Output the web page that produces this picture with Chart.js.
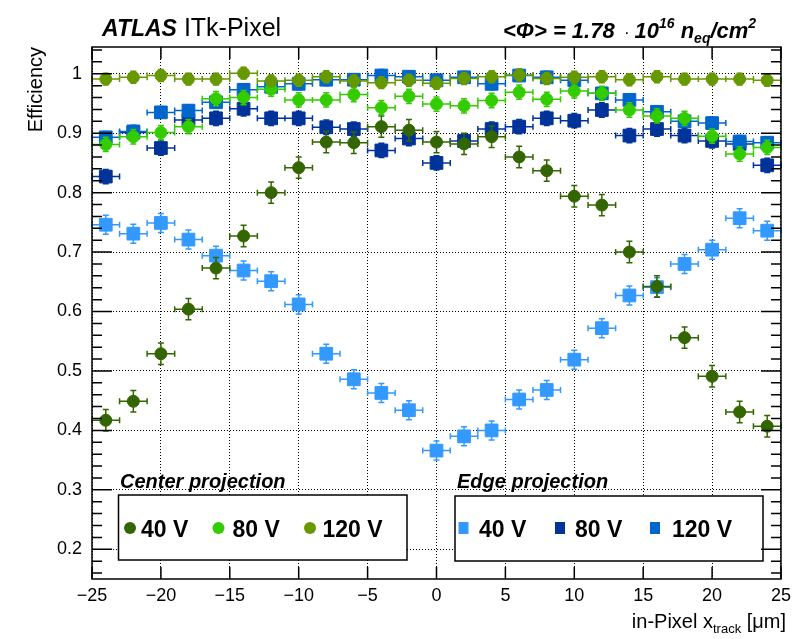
<!DOCTYPE html>
<html>
<head>
<meta charset="utf-8">
<script src="https://cdn.jsdelivr.net/npm/chart.js@4.4.1/dist/chart.umd.min.js"></script>
<style>
	html, body { margin: 0; padding: 0; background: #fff; }
	canvas { display: block; }
</style>
</head>
<body>
<canvas id="graficoEficiencia" width="797" height="639"></canvas>
<script>
// centro de cada bin em x (um), meia largura do bin
posicoes = [-24, -22, -20, -18, -16, -14, -12, -10, -8, -6, -4, -2, 0, 2, 4, 6, 8, 10, 12, 14, 16, 18, 20, 22, 24]
meiaLargura = 1

// projecao no centro do pixel
centro40 = [0.417, 0.449, 0.529, 0.604, 0.673, 0.727, 0.800, 0.842, 0.885, 0.884, 0.911, 0.905, 0.885, 0.882, 0.894, 0.860, 0.837, 0.794, 0.779, 0.700, 0.642, 0.556, 0.491, 0.431, 0.407]
centro80 = [0.881, 0.894, 0.901, 0.911, 0.958, 0.960, 0.974, 0.956, 0.956, 0.965, 0.943, 0.962, 0.949, 0.946, 0.955, 0.969, 0.957, 0.971, 0.967, 0.939, 0.929, 0.925, 0.895, 0.865, 0.876]
centro120 = [0.991, 0.994, 0.997, 0.991, 0.991, 1.001, 0.988, 0.989, 0.995, 0.988, 0.985, 0.989, 0.984, 0.992, 0.995, 0.998, 0.992, 0.994, 0.995, 0.990, 0.995, 0.991, 0.991, 0.991, 0.989]

// projecao na borda do pixel
borda40 = [0.746, 0.731, 0.749, 0.721, 0.694, 0.669, 0.651, 0.612, 0.529, 0.486, 0.463, 0.434, 0.366, 0.390, 0.400, 0.452, 0.468, 0.519, 0.572, 0.627, 0.641, 0.680, 0.704, 0.757, 0.736]
borda80 = [0.827, 0.901, 0.875, 0.922, 0.925, 0.941, 0.925, 0.925, 0.910, 0.907, 0.871, 0.891, 0.850, 0.887, 0.907, 0.911, 0.925, 0.921, 0.939, 0.896, 0.907, 0.896, 0.887, 0.882, 0.846]
borda120 = [0.893, 0.903, 0.935, 0.938, 0.952, 0.973, 0.978, 0.983, 0.990, 0.990, 0.997, 0.995, 0.989, 0.994, 0.983, 0.997, 0.994, 0.989, 0.967, 0.956, 0.936, 0.920, 0.917, 0.886, 0.884]

// incerteza em y de cada serie (40, 80, 120 V)
erroCentro = [0.018, 0.012, 0.010]
erroBorda = [0.016, 0.012, 0.010]

tensoes = ['40 V', '80 V', '120 V']
coresCentro = ['#336600', '#33cc00', '#669900']
coresBorda = ['#3399ff', '#003399', '#0066cc']

ticksX = [-25, -20, -15, -10, -5, 0, 5, 10, 15, 20, 25]
ticksY = [0.2, 0.3, 0.4, 0.5, 0.6, 0.7, 0.8, 0.9, 1]

fonte = "'Liberation Sans', Arial, Helvetica, sans-serif"

function serie(valores, cor, estilo, erro, ordem) {
	const raio = estilo == 'rect' ? 9 : 6
	return {
		data: posicoes.map((x, i) => ({ x: x, y: valores[i] })),
		erro: erro,
		backgroundColor: cor,
		borderColor: cor,
		borderWidth: 1,
		pointStyle: estilo,
		pointRadius: raio,
		pointHoverRadius: raio,
		showLine: false,
		order: ordem
	}
}

// barras de erro desenhadas logo antes dos pontos de cada serie
barrasDeErro = {
	id: 'barrasDeErro',
	beforeDatasetDraw(chart, args) {
		const ds = chart.data.datasets[args.index]
		const sx = chart.scales.x, sy = chart.scales.y
		const ctx = chart.ctx
		const cap = 3
		ctx.save()
		ctx.strokeStyle = ds.borderColor
		ctx.lineWidth = 1.5
		ctx.beginPath()
		ds.data.forEach(p => {
			const xc = sx.getPixelForValue(p.x), yc = sy.getPixelForValue(p.y)
			const x0 = sx.getPixelForValue(p.x - meiaLargura), x1 = sx.getPixelForValue(p.x + meiaLargura)
			const y0 = sy.getPixelForValue(p.y - ds.erro), y1 = sy.getPixelForValue(p.y + ds.erro)
			ctx.moveTo(x0, yc); ctx.lineTo(x1, yc)
			ctx.moveTo(xc, y0); ctx.lineTo(xc, y1)
			ctx.moveTo(x0, yc - cap); ctx.lineTo(x0, yc + cap)
			ctx.moveTo(x1, yc - cap); ctx.lineTo(x1, yc + cap)
			ctx.moveTo(xc - cap, y0); ctx.lineTo(xc + cap, y0)
			ctx.moveTo(xc - cap, y1); ctx.lineTo(xc + cap, y1)
		})
		ctx.stroke()
		ctx.restore()
	}
}

function escreve(ctx, partes, x, y) {
	partes.forEach(p => {
		ctx.font = p.f + ' ' + fonte
		ctx.fillText(p.t, x, y + (p.dy || 0))
		x += ctx.measureText(p.t).width
	})
}

function larguraDe(ctx, partes) {
	let w = 0
	partes.forEach(p => {
		ctx.font = p.f + ' ' + fonte
		w += ctx.measureText(p.t).width
	})
	return w
}

// caixas de legenda com os marcadores das series
function caixaLegenda(ctx, titulo, tituloX, caixa, cores, estilo, marcasX, textosX) {
	ctx.fillStyle = '#000'
	ctx.font = 'italic bold 20px ' + fonte
	ctx.textBaseline = 'alphabetic'
	ctx.fillText(titulo, tituloX, 488)
	ctx.fillStyle = '#fff'
	ctx.fillRect(caixa[0], caixa[1], caixa[2] - caixa[0], caixa[3] - caixa[1])
	ctx.strokeStyle = '#000'
	ctx.lineWidth = 1.5
	ctx.strokeRect(caixa[0], caixa[1], caixa[2] - caixa[0], caixa[3] - caixa[1])
	const yc = 528
	cores.forEach((cor, i) => {
		ctx.fillStyle = cor
		if (estilo == 'circle') {
			ctx.beginPath()
			ctx.arc(marcasX[i], yc, 6, 0, Math.PI * 2)
			ctx.fill()
		} else {
			ctx.fillRect(marcasX[i] - 5, yc - 6, 10, 12)
		}
		ctx.fillStyle = '#000'
		ctx.font = 'bold 23px ' + fonte
		ctx.fillText(tensoes[i], textosX[i], 536.5)
	})
}

legendas = {
	id: 'legendas',
	afterDatasetsDraw(chart) {
		const ctx = chart.ctx
		ctx.save()
		caixaLegenda(ctx, 'Center projection', 120, [118.5, 495, 407, 560], coresCentro, 'circle', [130, 218.5, 310], [141, 232.5, 322.5])
		caixaLegenda(ctx, 'Edge projection', 457, [455, 496, 763, 561], coresBorda, 'rect', [463.5, 560, 655], [479, 575, 672])
		ctx.restore()
	}
}

// moldura com marcas nos quatro lados e textos do cabecalho
moldura = {
	id: 'moldura',
	afterDraw(chart) {
		const { ctx, chartArea: a, scales: { x, y } } = chart
		ctx.save()
		ctx.strokeStyle = '#000'
		ctx.lineWidth = 1.5
		ctx.beginPath()
		ticksX.forEach(v => {
			const px = x.getPixelForValue(v)
			ctx.moveTo(px, a.bottom); ctx.lineTo(px, a.bottom - 12)
			ctx.moveTo(px, a.top); ctx.lineTo(px, a.top + 12)
		})
		for (let k = 8; k <= 52; k++) {
			const py = y.getPixelForValue(k * 0.02)
			const tam = k % 5 == 0 ? 20 : 10
			ctx.moveTo(a.left, py); ctx.lineTo(a.left + tam, py)
			ctx.moveTo(a.right, py); ctx.lineTo(a.right - tam, py)
		}
		ctx.stroke()
		ctx.strokeRect(a.left, a.top, a.right - a.left, a.bottom - a.top)

		ctx.fillStyle = '#000'
		ctx.textBaseline = 'alphabetic'
		ctx.textAlign = 'left'
		escreve(ctx, [
			{ t: 'ATLAS', f: 'italic bold 23px' },
			{ t: ' ITk-Pixel', f: '25px' }
		], 102, 36)
		escreve(ctx, [
			{ t: '<\u03a6> = 1.78', f: 'italic bold 22px' },
			{ t: '  \u00b7 ', f: '17px' },
			{ t: '10', f: 'italic bold 22px' },
			{ t: '16', f: 'italic bold 14px', dy: -10 },
			{ t: ' n', f: 'italic bold 22px' },
			{ t: 'eq', f: 'italic bold 14px', dy: 5 },
			{ t: '/cm', f: 'italic bold 22px' },
			{ t: '2', f: 'italic bold 14px', dy: -10 }
		], 503, 38)

		const tituloX = [
			{ t: 'in-Pixel x', f: '20px' },
			{ t: 'track', f: '13px', dy: 5 },
			{ t: ' [\u03bcm]', f: '20px' }
		]
		escreve(ctx, tituloX, 786 - larguraDe(ctx, tituloX), 628)
		ctx.restore()
	}
}

Chart.defaults.font.family = fonte
Chart.defaults.color = '#000'

datasets = [
	serie(centro120, coresCentro[2], 'circle', erroCentro[2], 1),
	serie(centro80, coresCentro[1], 'circle', erroCentro[1], 2),
	serie(centro40, coresCentro[0], 'circle', erroCentro[0], 3),
	serie(borda120, coresBorda[2], 'rect', erroBorda[2], 4),
	serie(borda80, coresBorda[1], 'rect', erroBorda[1], 5),
	serie(borda40, coresBorda[0], 'rect', erroBorda[0], 6)
]

var ctx = document.getElementById('graficoEficiencia').getContext('2d')
window.graficoEficiencia = new Chart(ctx, {
	type: 'scatter',
	data: { datasets: datasets },
	options: {
		responsive: false,
		animation: false,
		devicePixelRatio: 1,
		layout: { padding: { top: 47, right: 11, left: 0, bottom: 0 } },
		plugins: {
			legend: { display: false },
			tooltip: { enabled: false }
		},
		scales: {
			x: {
				type: 'linear',
				min: -25,
				max: 25,
				afterBuildTicks: s => { s.ticks = ticksX.map(v => ({ value: v })) },
				afterFit: s => { s.height = 60 },
				ticks: {
					font: { size: 18 },
					color: '#000',
					padding: 6,
					maxRotation: 0,
					callback: v => (v < 0 ? '\u2212' + Math.abs(v) : '' + v)
				},
				grid: { color: '#000', lineWidth: 1, drawTicks: false },
				border: { display: false, dash: [1, 2] }
			},
			y: {
				type: 'linear',
				min: 0.15,
				max: 1.045,
				afterBuildTicks: s => { s.ticks = ticksY.map(v => ({ value: v })) },
				afterFit: s => { s.width = 92 },
				ticks: {
					font: { size: 18 },
					color: '#000',
					padding: 10,
					callback: v => '' + Math.round(v * 10) / 10
				},
				grid: { color: '#000', lineWidth: 1, drawTicks: false },
				border: { display: false, dash: [1, 2] },
				title: {
					display: true,
					text: 'Efficiency',
					align: 'end',
					font: { size: 20 },
					color: '#000',
					padding: { top: 24, bottom: 0 }
				}
			}
		}
	},
	plugins: [barrasDeErro, legendas, moldura]
})
</script>
</body>
</html>
